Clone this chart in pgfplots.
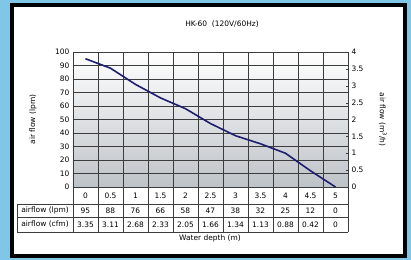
\documentclass[border=0pt]{standalone}
\usepackage{pgfplots}
\pgfplotsset{compat=1.18}
\usepackage{pgfplotstable}
\usepackage{fontspec}
\setmainfont{DejaVu Sans}
\definecolor{outerblue}{RGB}{128,198,230}
\definecolor{navyline}{RGB}{30,30,110}
\definecolor{gridc}{RGB}{60,60,60}
\definecolor{plotbot}{RGB}{190,195,200}
\pgfplotstableread{
x lpm cfm
0 95 3.35
0.5 88 3.11
1 76 2.68
1.5 66 2.33
2 58 2.05
2.5 47 1.66
3 38 1.34
3.5 32 1.13
4 25 0.88
4.5 12 0.42
5 0 0
}\data
\begin{document}
\begin{tikzpicture}[font=\fontsize{7.5}{9}\selectfont]
\fill[outerblue] (0,0) rectangle (411bp,260bp);
\draw[line width=4bp, fill=white] (12bp,4bp) rectangle (405bp,255bp);
\path[use as bounding box] (0,0) rectangle (411bp,260bp);
\begin{axis}[
  at={(73bp,73bp)}, anchor=south west,
  scale only axis, width=275bp, height=135bp,
  xmin=-0.25, xmax=5.25, ymin=0, ymax=100,
  clip=false,
  axis background/.style={shade, top color=white, bottom color=plotbot},
  xtick={-0.25,0.25,0.75,1.25,1.75,2.25,2.75,3.25,3.75,4.25,4.75,5.25},
  xticklabels={},
  ytick={0,10,20,30,40,50,60,70,80,90,100},
  grid=major,
  grid style={gridc, line width=0.9bp},
  axis line style={gridc, line width=0.9bp},
  major tick length=2bp,
  xtick style={draw=none},
  ytick style={gridc},
  tick label style={font=\fontsize{7.5}{9}\selectfont},
  /pgf/number format/assume math mode=true,
  ylabel={air flow (lpm)},
  every axis y label/.style={at={(axis description cs:-0.145,0.5)}, rotate=90, anchor=center},
]
\addplot[navyline, line width=1.6bp] table[x=x, y=lpm] {\data};
% table rows
\addplot[only marks, mark=none, point meta=explicit symbolic, nodes near coords,
  every node near coord/.style={anchor=center, font=\fontsize{7.5}{9}\selectfont}]
  table[x=x, y expr=-6.3, meta=x] {\data};
\addplot[only marks, mark=none, point meta=explicit symbolic, nodes near coords,
  every node near coord/.style={anchor=center, font=\fontsize{7.5}{9}\selectfont}]
  table[x=x, y expr=-17.4, meta=lpm] {\data};
\addplot[only marks, mark=none, point meta=explicit symbolic, nodes near coords,
  every node near coord/.style={anchor=center, font=\fontsize{7.5}{9}\selectfont}]
  table[x=x, y expr=-27.75, meta=cfm] {\data};
\pgfplotsinvokeforeach{-0.25,0.25,0.75,1.25,1.75,2.25,2.75,3.25,3.75,4.25,4.75,5.25}{
  \draw[gridc, line width=0.9bp] (axis cs:#1,0) -- (axis cs:#1,-33.3);
}
\draw[gridc, line width=0.9bp] (axis cs:-1.37,-12.6) -- (axis cs:5.25,-12.6)
  (axis cs:-1.37,-22.2) -- (axis cs:5.25,-22.2)
  (axis cs:-1.37,-33.3) -- (axis cs:5.25,-33.3)
  (axis cs:-1.37,-12.6) -- (axis cs:-1.37,-33.3);
\node at (axis cs:-0.81,-17.4) {airflow (lpm)};
\node at (axis cs:-0.81,-27.75) {airflow (cfm)};
\end{axis}
\begin{axis}[
  at={(73bp,73bp)}, anchor=south west,
  scale only axis, width=275bp, height=135bp,
  xmin=-0.25, xmax=5.25, ymin=0, ymax=4,
  axis x line=none, axis y line*=right,
  ytick={0,0.5,1,1.5,2,2.5,3,3.5,4},
  axis line style={gridc, line width=0.9bp},
  major tick length=2bp,
  ytick style={gridc},
  tick label style={font=\fontsize{7.5}{9}\selectfont},
  /pgf/number format/assume math mode=true,
  ylabel={air flow (m\textsuperscript{3}/h)},
  every axis y label/.style={at={(axis description cs:1.127,0.5)}, rotate=-90, anchor=center},
]
\addplot[draw=none] coordinates {(0,0)};
\end{axis}
\node at (222bp,236bp) {HK-60\ \ (120V/60Hz)};
\node at (210bp,22bp) {Water depth (m)};
\end{tikzpicture}
\end{document}
